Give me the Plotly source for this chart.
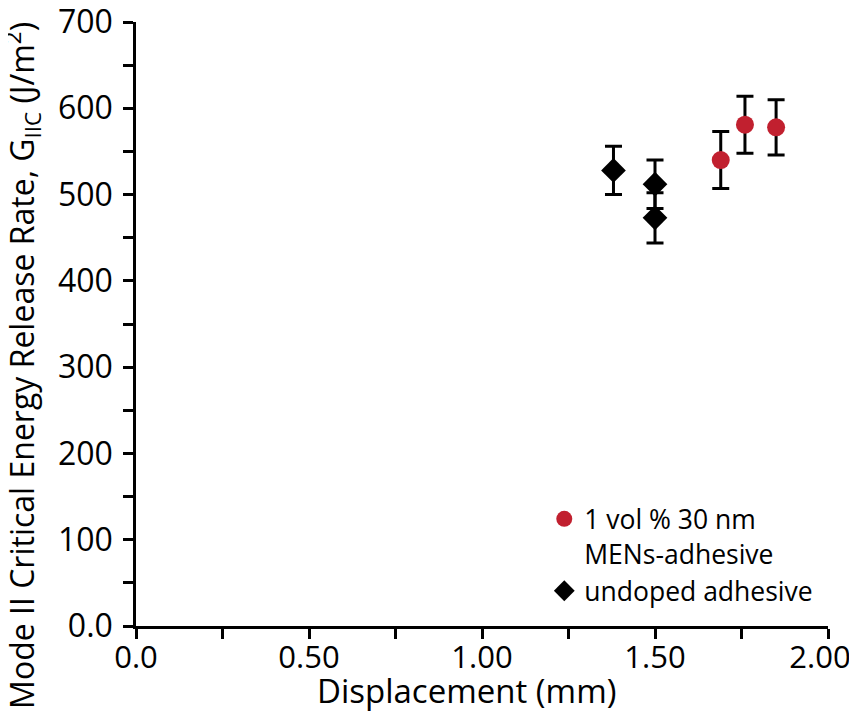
import plotly.graph_objects as go

# Data
men_x = [1.69, 1.76, 1.85]
men_y = [540, 581, 578]
men_err = [33, 33, 32]

und_x = [1.38, 1.50, 1.50]
und_y = [528, 512, 473]
und_err = [28, 28, 29]

x_tickvals = [0, 0.5, 1.0, 1.5, 2.0]
x_ticktext = ["0.0", "0.50", "1.00", "1.50", "2.00\u00a0\u00a0"]
y_tickvals = [0, 100, 200, 300, 400, 500, 600, 700]
y_ticktext = ["0.0", "100", "200", "300", "400", "500", "600", "700"]

x_title = "Displacement (mm)"
y_title = "Mode II Critical Energy Release Rate, G<sub>IIC</sub> (J/m<sup>2</sup>)"

FONT = "Open Sans"
RED = "#C1202F"

fig = go.Figure()
fig.add_trace(go.Scatter(
    x=men_x, y=men_y, mode="markers",
    name="1 vol % 30 nm<br>MENs-adhesive",
    marker=dict(symbol="circle", size=18, color=RED),
    error_y=dict(type="data", array=men_err, color="black", thickness=3, width=8.5),
))
fig.add_trace(go.Scatter(
    x=und_x, y=und_y, mode="markers",
    name="undoped adhesive",
    marker=dict(symbol="diamond", size=19, color="black"),
    error_y=dict(type="data", array=und_err, color="black", thickness=3, width=8.5),
))

axis_common = dict(
    showline=True, linecolor="black", linewidth=2.5,
    ticks="outside", ticklen=10, tickwidth=2.5, tickcolor="black",
    showgrid=False, zeroline=False, automargin=False,
    ticklabeloverflow="allow",
)

fig.update_xaxes(
    range=[0, 2.0], tickmode="array", tickvals=x_tickvals, ticktext=x_ticktext,
    minor=dict(dtick=0.25, ticks="outside", ticklen=10, tickwidth=2.5, tickcolor="black"),
    ticklabelstandoff=-8,
    tickfont=dict(family=FONT, size=31, color="black"),
    **axis_common,
)
fig.update_yaxes(
    range=[0, 700], tickmode="array", tickvals=y_tickvals, ticktext=y_ticktext,
    minor=dict(dtick=50, ticks="outside", ticklen=10, tickwidth=2.5, tickcolor="black"),
    ticklabelstandoff=4,
    tickfont=dict(family=FONT, size=32, color="black"),
    **axis_common,
)

fig.add_annotation(text=x_title, xref="paper", yref="paper", x=0.477, y=-0.106,
                   xanchor="center", yanchor="middle", showarrow=False,
                   font=dict(family=FONT, size=33, color="black"))
fig.add_annotation(text=y_title, xref="paper", yref="paper", x=-0.165, y=0.432,
                   xanchor="center", yanchor="middle", showarrow=False, textangle=-90,
                   font=dict(family=FONT, size=32, color="black"))

fig.update_layout(
    width=857, height=719,
    margin=dict(l=128, r=37, t=14, b=101),
    plot_bgcolor="white", paper_bgcolor="white",
    showlegend=True,
    legend=dict(x=0.59, y=0.018, xanchor="left", yanchor="bottom",
                bgcolor="rgba(0,0,0,0)", valign="top",
                font=dict(family=FONT, size=26.5, color="black"),
                itemsizing="trace", tracegroupgap=0),
)

fig.write_html("out.html")
